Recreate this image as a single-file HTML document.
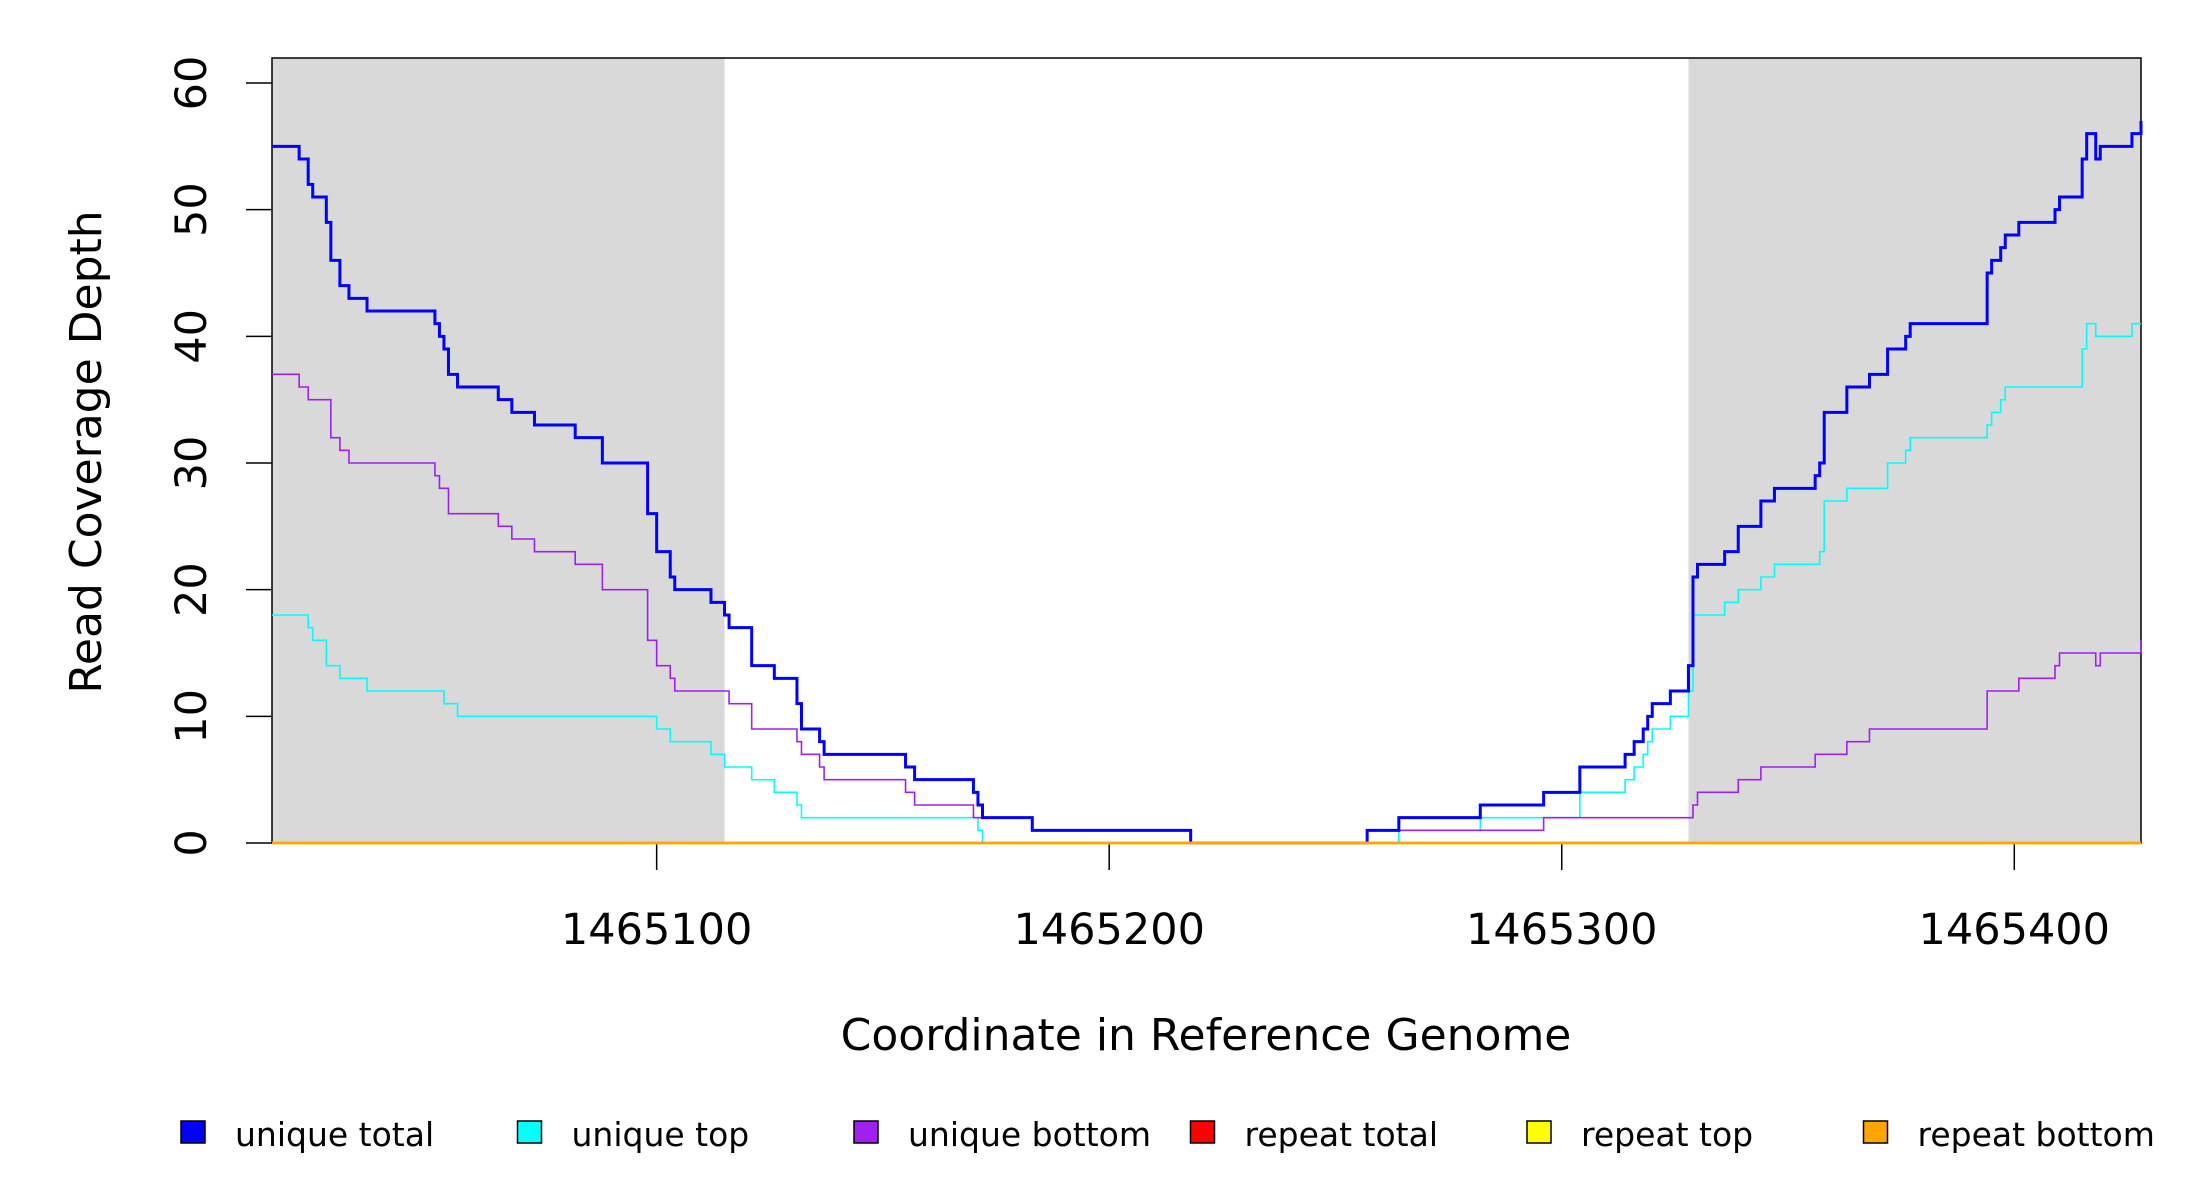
<!DOCTYPE html>
<html><head><meta charset="utf-8"><style>
html,body{margin:0;padding:0;background:#fff;}
svg{display:block;font-family:"DejaVu Sans","Liberation Sans",sans-serif;}
</style></head><body>
<svg id="chart" width="2200" height="1200" viewBox="0 0 2200 1200">
<g id="shade"></g><g id="axes"></g><g id="series"></g><g id="legend"></g>
</svg>
<script>
const totalX=[15,21,23,24,27,28,30,32,36,51,52,53,54,56,65,68,73,82,88,98,100,103,104,112,115,116,121,126,131,132,136,137,155,157,170,171,172,183,218,257,264,282,296,304,314,316,318,319,320,324,328,329,330,336,339,344,347,356,357,358,363,368,372,376,377,394,395,397,398,401,409,410,415,416,418,419,426,428];
const totalY=[55,54,52,51,49,46,44,43,42,41,40,39,37,36,35,34,33,32,30,26,23,21,20,19,18,17,14,13,11,9,8,7,6,5,4,3,2,1,0,1,2,3,4,6,7,8,9,10,11,12,14,21,22,23,25,27,28,29,30,34,36,37,39,40,41,45,46,47,48,49,50,51,54,56,54,55,56,57];
const topX=[15,23,24,27,30,36,53,56,100,103,112,115,121,126,131,132,171,172,264,282,304,314,316,318,319,320,324,328,329,336,339,344,347,357,358,363,372,376,377,394,395,397,398,415,416,418,426];
const topY=[18,17,16,14,13,12,11,10,9,8,7,6,5,4,3,2,1,0,1,2,4,5,6,7,8,9,10,12,18,19,20,21,22,23,27,28,30,31,32,33,34,35,36,39,41,40,41];
const botX=[15,21,23,28,30,32,51,52,54,65,68,73,82,88,98,100,103,104,116,121,131,132,136,137,155,157,170,183,218,257,296,329,330,339,344,356,363,368,394,401,409,410,418,419,428];
const botY=[37,36,35,32,31,30,29,28,26,25,24,23,22,20,16,14,13,12,11,9,8,7,6,5,4,3,2,1,0,1,2,3,4,5,6,7,8,9,12,13,14,15,14,15,16];
const shadeRanges=[[15,115],[328,428]];
const xTicks=[100,200,300,400];
const xTickLabels=["1465100","1465200","1465300","1465400"];
const yTicks=[0,10,20,30,40,50,60];
const legendNames=["unique total","unique top","unique bottom","repeat total","repeat top","repeat bottom"];
const legendColors=["#0000ff","#00ffff","#a020f0","#ff0000","#ffff00","#ffa500"];

const NS="http://www.w3.org/2000/svg";
const X0=15,X1=428,PL=272,PR=2141,PT=58,PB=843;
function sx(c){return PL+(c-X0)*(PR-PL)/(X1-X0);}
function sy(v){return 843-v*(843-83)/60;}
function mk(tag,attrs,parent){const e=document.createElementNS(NS,tag);for(const k in attrs)e.setAttribute(k,attrs[k]);parent.appendChild(e);return e;}
const shade=document.getElementById('shade'),series=document.getElementById('series'),axes=document.getElementById('axes'),legend=document.getElementById('legend');

shadeRanges.forEach((r,i)=>{
  const e=mk('rect',{x:sx(r[0]),y:PT,width:sx(r[1])-sx(r[0]),height:PB-PT,fill:'#d9d9d9'},shade);
  
  
});
function stepPath(xs,ys){
  let d='M'+sx(xs[0])+','+sy(ys[0]);
  for(let i=1;i<xs.length;i++){d+=' H'+sx(xs[i])+' V'+sy(ys[i]);}
  d+=' H'+sx(X1);return d;
}
const s1=mk('path',{d:stepPath(topX,topY),fill:'none',stroke:'#00ffff','stroke-width':1.6},series);


const s2=mk('path',{d:stepPath(botX,botY),fill:'none',stroke:'#a020f0','stroke-width':1.6},series);


const s0=mk('path',{d:stepPath(totalX,totalY),fill:'none',stroke:'#0000ff','stroke-width':3},series);


['#ff0000','#ffff00','#ffa500'].forEach((c,i)=>{
  const e=mk('path',{d:stepPath([X0],[0]),fill:'none',stroke:c,'stroke-width':2.5},series);
  
  
});

const box=mk('rect',{x:PL,y:PT,width:PR-PL,height:PB-PT,fill:'none',stroke:'#000','stroke-width':1.5},axes);


xTicks.forEach((t,i)=>{
  const l=mk('line',{x1:sx(t),x2:sx(t),y1:PB,y2:870,stroke:'#000','stroke-width':1.5},axes);
  
  
  const tx=mk('text',{x:sx(t),y:944,'text-anchor':'middle','font-size':43},axes);
  tx.textContent=xTickLabels[i];
  
  
});
yTicks.forEach(t=>{
  const l=mk('line',{x1:246,x2:PL,y1:sy(t),y2:sy(t),stroke:'#000','stroke-width':1.5},axes);
  
  
  const tx=mk('text',{x:0,y:0,'text-anchor':'middle','font-size':43,transform:'translate(206,'+sy(t)+') rotate(-90)'},axes);
  tx.textContent=String(t);
  
  
});
const xt=mk('text',{x:1206,y:1050,'text-anchor':'middle','font-size':44},axes);
xt.textContent='Coordinate in Reference Genome';


const yt=mk('text',{x:0,y:0,'text-anchor':'middle','font-size':44,transform:'translate(101,452) rotate(-90)'},axes);
yt.textContent='Read Coverage Depth';



const lx=[181,517.5,854,1190.5,1527,1863.5];
legendNames.forEach((n,i)=>{
  const r=mk('rect',{x:lx[i],y:1121,width:24,height:22,fill:legendColors[i],stroke:'#000','stroke-width':1.5},legend);
  
  
  const t=mk('text',{x:lx[i]+54,y:1146,'font-size':33},legend);
  t.textContent=n;
  
  
});
</script>
</body></html>
